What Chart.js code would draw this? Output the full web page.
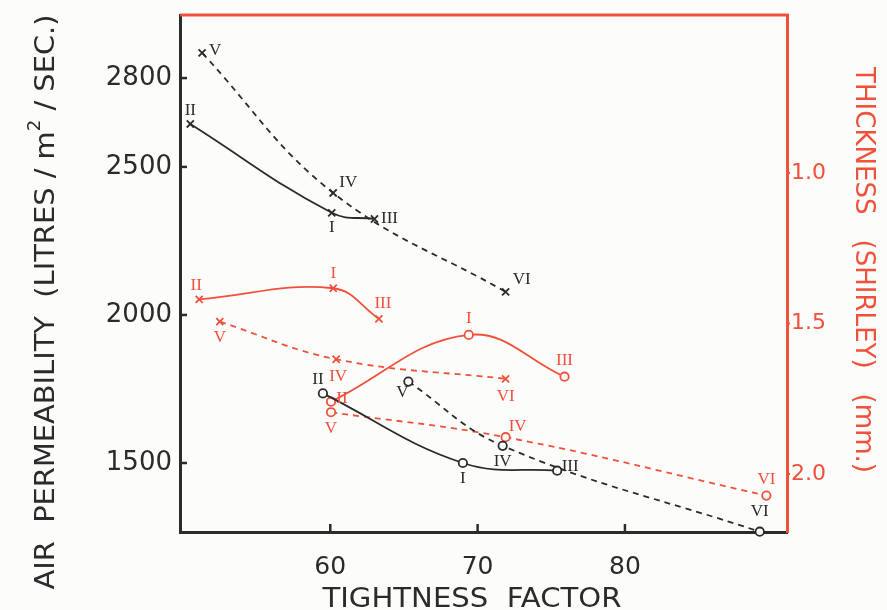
<!DOCTYPE html>
<html>
<head>
<meta charset="utf-8">
<script src="https://cdn.jsdelivr.net/npm/chart.js@4.4.0/dist/chart.umd.min.js"></script>
<style>
  html, body { margin: 0; padding: 0; background: #fcfcfa; }
  #wrap { width: 887px; height: 610px; }
</style>
</head>
<body>
<div id="wrap"><canvas id="chart" width="887" height="610"></canvas></div>
<script>
// --- values ---
const xTicks = [60, 70, 80];
const permTicks = [1500, 2000, 2500, 2800];
const thickTicks = [1.0, 1.5, 2.0];

// air permeability (left axis) - x markers
const permCrossSolidX = [50.5, 60.1, 63.0];
const permCrossSolidY = [2645, 2345, 2324];
const permCrossSolidNum = ["II", "I", "III"];

const permCrossDashX = [51.3, 60.2, 71.9];
const permCrossDashY = [2885, 2412, 2078];
const permCrossDashNum = ["V", "IV", "VI"];

// air permeability - o markers
const permRingSolidX = [59.5, 69.0, 75.4];
const permRingSolidY = [1735, 1500, 1474];
const permRingSolidNum = ["II", "I", "III"];

const permRingDashX = [65.3, 71.7, 89.15];
const permRingDashY = [1775, 1558, 1268];
const permRingDashNum = ["V", "IV", "VI"];

// thickness (right axis, mm) - x markers
const thickCrossSolidX = [51.1, 60.2, 63.3];
const thickCrossSolidY = [1.42, 1.383, 1.485];
const thickCrossSolidNum = ["II", "I", "III"];

const thickCrossDashX = [52.5, 60.4, 71.9];
const thickCrossDashY = [1.494, 1.619, 1.684];
const thickCrossDashNum = ["V", "IV", "VI"];

// thickness - o markers
const thickRingSolidX = [60.05, 69.4, 75.9];
const thickRingSolidY = [1.76, 1.538, 1.677];
const thickRingSolidNum = ["II", "I", "III"];

const thickRingDashX = [60.05, 71.9, 89.6];
const thickRingDashY = [1.795, 1.878, 2.072];
const thickRingDashNum = ["V", "IV", "VI"];

// --- look ---
const DARK = "#2b2b2b";
const RED = "#f0513b";
const BG = "#fcfcfa";
const SANS = "'DejaVu Sans', sans-serif";

function pts(xs, ys) { return xs.map((x, i) => ({ x, y: ys[i] })); }

function series(xs, ys, nums, opts) {
  const ring = opts.marker === "ring";
  return {
    data: pts(xs, ys),
    numerals: nums,
    numOff: opts.off,
    yAxisID: opts.axis,
    borderColor: opts.color,
    borderWidth: 1.8,
    borderDash: opts.dash ? [6, 5] : [],
    tension: 0.4,
    fill: false,
    clip: false,
    pointStyle: ring ? "circle" : "crossRot",
    pointRadius: ring ? 4.2 : 5,
    pointBorderWidth: 1.8,
    pointBorderColor: opts.color,
    pointBackgroundColor: ring ? BG : opts.color
  };
}

// roman numerals next to each point
const numeralPlugin = {
  id: "numerals",
  afterDatasetsDraw(chart) {
    const ctx = chart.ctx;
    ctx.save();
    ctx.font = "17px 'Liberation Serif', serif";
    ctx.textAlign = "center";
    ctx.textBaseline = "middle";
    chart.data.datasets.forEach((ds, i) => {
      const meta = chart.getDatasetMeta(i);
      ctx.fillStyle = ds.borderColor;
      meta.data.forEach((el, j) => {
        const o = ds.numOff[j];
        ctx.fillText(ds.numerals[j], el.x + o[0], el.y + o[1]);
      });
    });
    ctx.restore();
  }
};

// inward / outward tick marks + red top frame
const framePlugin = {
  id: "frame",
  afterDraw(chart) {
    const { ctx, chartArea: a, scales } = chart;
    const line = (x1, y1, x2, y2) => { ctx.beginPath(); ctx.moveTo(x1, y1); ctx.lineTo(x2, y2); ctx.stroke(); };
    ctx.save();
    ctx.lineWidth = 2.5;
    ctx.strokeStyle = DARK;
    permTicks.forEach(v => { const y = scales.yP.getPixelForValue(v); line(a.left, y, a.left + 7, y); });
    xTicks.forEach(v => { const x = scales.x.getPixelForValue(v); line(x, a.bottom, x, a.bottom - 8); });
    ctx.strokeStyle = RED;
    ctx.lineWidth = 2;
    thickTicks.forEach(v => { const y = scales.yT.getPixelForValue(v); line(a.right, y, a.right + 3, y); });
    ctx.lineWidth = 3;
    line(a.left, a.top, a.right + 1.5, a.top);
    ctx.restore();
  }
};

// axis titles, stretched a bit to match the wide lettering of the original
function drawTitle(ctx, parts, cx, cy, rot, len, size, color) {
  ctx.save();
  ctx.fillStyle = color;
  ctx.textBaseline = "alphabetic";
  ctx.textAlign = "left";
  let total = 0;
  parts.forEach(p => { ctx.font = Math.round(size * (p.s || 1)) + "px " + SANS; p.w = ctx.measureText(p.t).width; total += p.w; });
  ctx.translate(cx, cy);
  ctx.rotate(rot);
  ctx.scale(len / total, 1);
  let x = -total / 2;
  const base = size * 0.365;
  parts.forEach(p => {
    ctx.font = Math.round(size * (p.s || 1)) + "px " + SANS;
    ctx.fillText(p.t, x, base - (p.rise || 0) * size);
    x += p.w;
  });
  ctx.restore();
}

const titlePlugin = {
  id: "titles",
  afterDraw(chart) {
    const ctx = chart.ctx;
    drawTitle(ctx, [{ t: "TIGHTNESS  FACTOR" }], 472, 597, 0, 299, 27, DARK);
    drawTitle(ctx, [
      { t: "AIR  PERMEABILITY  (LITRES / m" },
      { t: "2", s: 0.62, rise: 0.52 },
      { t: " / SEC.)" }
    ], 44, 302, -Math.PI / 2, 575, 27, DARK);
    drawTitle(ctx, [{ t: "THICKNESS   (SHIRLEY)   (mm.)" }], 865, 270, Math.PI / 2, 406, 26, RED);
  }
};

// fixed box sizes so the plot area sits where the original's does
const fitX = s => { s.height = 78; s.paddingLeft = 0; s.paddingRight = 0; };
const fitLeft = s => { s.width = 180; s.paddingTop = 0; s.paddingBottom = 0; };
const fitRight = s => { s.width = 100; s.paddingTop = 0; s.paddingBottom = 0; };

new Chart(document.getElementById("chart"), {
  type: "line",
  data: {
    datasets: [
      series(permCrossSolidX, permCrossSolidY, permCrossSolidNum, { axis: "yP", color: DARK, marker: "cross", off: [[0, -13], [0, 15], [15, 0]] }),
      series(permCrossDashX, permCrossDashY, permCrossDashNum, { axis: "yP", color: DARK, marker: "cross", dash: true, off: [[13, -2], [15, -10], [16, -12]] }),
      series(permRingSolidX, permRingSolidY, permRingSolidNum, { axis: "yP", color: DARK, marker: "ring", off: [[-5, -14], [0, 16], [13, -4]] }),
      series(permRingDashX, permRingDashY, permRingDashNum, { axis: "yP", color: DARK, marker: "ring", dash: true, off: [[-6, 11], [0, 16], [0, -20]] }),
      series(thickCrossSolidX, thickCrossSolidY, thickCrossSolidNum, { axis: "yT", color: RED, marker: "cross", off: [[-3, -14], [0, -15], [4, -15]] }),
      series(thickCrossDashX, thickCrossDashY, thickCrossDashNum, { axis: "yT", color: RED, marker: "cross", dash: true, off: [[0, 16], [2, 17], [0, 18]] }),
      series(thickRingSolidX, thickRingSolidY, thickRingSolidNum, { axis: "yT", color: RED, marker: "ring", off: [[11, -3], [0, -16], [0, -16]] }),
      series(thickRingDashX, thickRingDashY, thickRingDashNum, { axis: "yT", color: RED, marker: "ring", dash: true, off: [[0, 16], [12, -11], [0, -16]] })
    ]
  },
  options: {
    responsive: false,
    animation: false,
    layout: { padding: { top: 15, left: 0, right: 0, bottom: 0 } },
    plugins: { legend: { display: false }, tooltip: { enabled: false } },
    scales: {
      x: {
        type: "linear",
        min: 49.8, max: 91,
        afterBuildTicks: s => { s.ticks = xTicks.map(v => ({ value: v })); },
        afterFit: fitX,
        grid: { display: false, drawTicks: false },
        border: { color: DARK, width: 3 },
        ticks: { color: DARK, font: { family: SANS, size: 25 }, padding: 20 }
      },
      yP: {
        type: "linear",
        position: "left",
        min: 1267, max: 3013,
        afterBuildTicks: s => { s.ticks = permTicks.map(v => ({ value: v })); },
        afterFit: fitLeft,
        grid: { display: false, drawTicks: false },
        border: { color: DARK, width: 3 },
        ticks: { color: DARK, font: { family: SANS, size: 26 }, padding: 8, callback: v => String(v) }
      },
      yT: {
        type: "linear",
        position: "right",
        reverse: true,
        min: 0.475, max: 2.193,
        afterBuildTicks: s => { s.ticks = thickTicks.map(v => ({ value: v })); },
        afterFit: fitRight,
        grid: { display: false, drawTicks: false },
        border: { color: RED, width: 3 },
        ticks: { color: RED, font: { family: SANS, size: 22 }, padding: 4, callback: v => v.toFixed(1) }
      }
    }
  },
  plugins: [numeralPlugin, framePlugin, titlePlugin]
});
</script>
</body>
</html>
